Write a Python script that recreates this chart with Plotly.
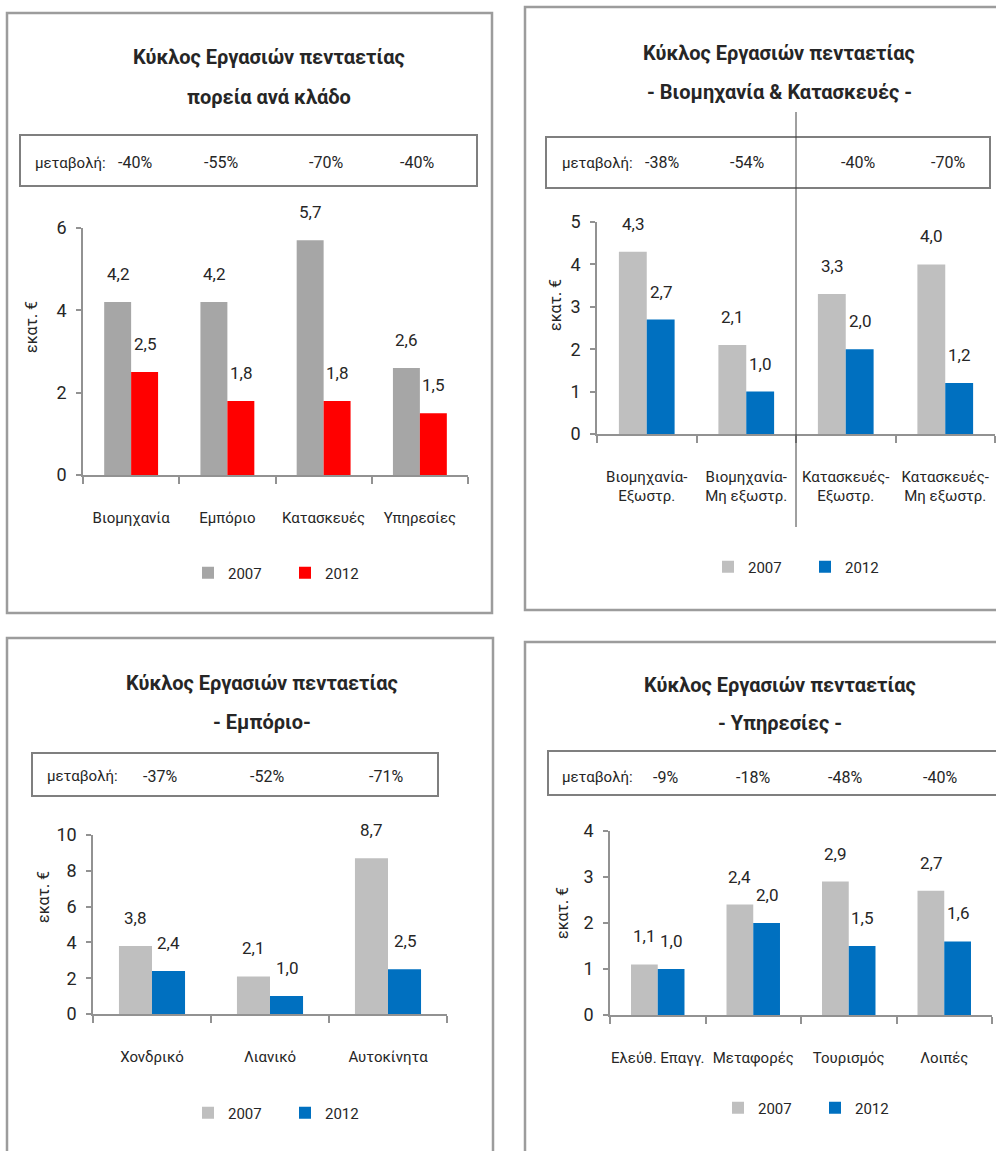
import plotly.graph_objects as go

# ---- data -------------------------------------------------------------
title_main = "Κύκλος Εργασιών πενταετίας"
change_label = "μεταβολή:"
unit_label = "εκατ. €"
years = ["2007", "2012"]

cats_sector = ["Βιομηχανία", "Εμπόριο", "Κατασκευές", "Υπηρεσίες"]
sector_2007 = [4.2, 4.2, 5.7, 2.6]
sector_2012 = [2.5, 1.8, 1.8, 1.5]
sector_change = ["-40%", "-55%", "-70%", "-40%"]
sector_sub = "πορεία ανά κλάδο"

cats_ind = ["Βιομηχανία-<br>Εξωστρ.", "Βιομηχανία-<br>Μη εξωστρ.",
            "Κατασκευές-<br>Εξωστρ.", "Κατασκευές-<br>Μη εξωστρ."]
ind_2007 = [4.3, 2.1, 3.3, 4.0]
ind_2012 = [2.7, 1.0, 2.0, 1.2]
ind_change = ["-38%", "-54%", "-40%", "-70%"]
ind_sub = "- Βιομηχανία & Κατασκευές -"

cats_trade = ["Χονδρικό", "Λιανικό", "Αυτοκίνητα"]
trade_2007 = [3.8, 2.1, 8.7]
trade_2012 = [2.4, 1.0, 2.5]
trade_change = ["-37%", "-52%", "-71%"]
trade_sub = "- Εμπόριο-"

cats_serv = ["Ελεύθ. Επαγγ.", "Μεταφορές", "Τουρισμός", "Λοιπές"]
serv_2007 = [1.1, 2.4, 2.9, 2.7]
serv_2012 = [1.0, 2.0, 1.5, 1.6]
serv_change = ["-9%", "-18%", "-48%", "-40%"]
serv_sub = "- Υπηρεσίες -"

# ---- page geometry (pixels) -------------------------------------------
W, H = 996, 1151
FONT = "Roboto, Liberation Sans, sans-serif"
TXT = "#262626"
AXC = "#929292"
BARGAP = 0.44


def px(x):
    return x / W


def py(y):
    return 1 - y / H


panels = [
    dict(cats=cats_sector, a=sector_2007, b=sector_2012, chg=sector_change, sub=sector_sub,
         ca="#A6A6A6", cb="#FF0000", plot=(83, 468, 228, 475), ymax=6, dtick=2,
         frame=(7, 13, 492, 613), cbox=(20, 135, 477, 186), chg_y=163, chg_lx=33,
         chg_x=[135, 221, 326, 417],
         title_x=269, title_y=(57, 97), ytitle=(32, 327), leg=(188, 573)),
    dict(cats=cats_ind, a=ind_2007, b=ind_2012, chg=ind_change, sub=ind_sub,
         ca="#BFBFBF", cb="#0070C0", plot=(597, 995, 222, 434), ymax=5, dtick=1,
         frame=(525, 7, 1010, 610), cbox=(546, 137, 990, 188), chg_y=163, chg_lx=560,
         chg_x=[662, 747, 858, 948],
         title_x=779, title_y=(53, 92), ytitle=(555, 305), leg=(708, 567)),
    dict(cats=cats_trade, a=trade_2007, b=trade_2012, chg=trade_change, sub=trade_sub,
         ca="#BFBFBF", cb="#0070C0", plot=(93, 447, 835, 1014), ymax=10, dtick=2,
         frame=(7, 638, 493, 1170), cbox=(32, 753, 438, 796), chg_y=776, chg_lx=45,
         chg_x=[160, 267, 386],
         title_x=262, title_y=(683, 722), ytitle=(43, 897), leg=(188, 1113)),
    dict(cats=cats_serv, a=serv_2007, b=serv_2012, chg=serv_change, sub=serv_sub,
         ca="#BFBFBF", cb="#0070C0", plot=(610, 992, 831, 1015), ymax=4, dtick=1,
         frame=(525, 642, 1010, 1170), cbox=(548, 751, 1010, 795), chg_y=777, chg_lx=560,
         chg_x=[665, 753, 845, 940],
         title_x=780, title_y=(685, 723), ytitle=(562, 913), leg=(718, 1108)),
]

fig = go.Figure()
shapes, annotations = [], []
layout = {}


def label(x, y, text, size, bold=False, **kw):
    d = dict(x=x, y=y, xref="paper", yref="paper", text=f"<b>{text}</b>" if bold else text,
             showarrow=False, xanchor="center", yanchor="middle",
             font=dict(family=FONT, size=size, color=TXT))
    d.update(kw)
    return d


for i, p in enumerate(panels, start=1):
    xn = "x" if i == 1 else f"x{i}"
    yn = "y" if i == 1 else f"y{i}"
    ln = "legend" if i == 1 else f"legend{i}"
    x0, x1, y0, y1 = p["plot"]
    n = len(p["cats"])

    for yr, vals, col in ((years[0], p["a"], p["ca"]), (years[1], p["b"], p["cb"])):
        fig.add_trace(go.Bar(x=p["cats"], y=vals, name=yr, marker=dict(color=col, line_width=0),
                             xaxis=xn, yaxis=yn, legend=ln, hoverinfo="x+y+name"))

    xa = "xaxis" if i == 1 else f"xaxis{i}"
    ya = "yaxis" if i == 1 else f"yaxis{i}"
    layout[xa] = dict(domain=[px(x0), px(x1)], anchor=yn, type="category",
                      range=[-0.5, n - 0.5], showline=True, linecolor=AXC, linewidth=1.5,
                      ticks="outside", tickson="boundaries", ticklen=7, tickcolor=AXC,
                      tickwidth=1.5, showgrid=False, ticklabelstandoff=28, tickangle=0,
                      tickfont=dict(family=FONT, size=15, color=TXT), fixedrange=True)
    layout[ya] = dict(domain=[py(y1), py(y0)], anchor=xn, range=[0, p["ymax"]],
                      dtick=p["dtick"], showline=True, linecolor=AXC, linewidth=1.5,
                      ticks="outside", ticklen=5, tickcolor=AXC, tickwidth=1.5,
                      showgrid=False, zeroline=False, ticklabelstandoff=6,
                      tickfont=dict(family=FONT, size=18, color=TXT), fixedrange=True)

    # value labels above each bar
    cat_px = (x1 - x0) / n
    shift = (1 - BARGAP) / 4 * cat_px
    for vals, sx in ((p["a"], -shift), (p["b"], shift)):
        for c, v in zip(p["cats"], vals):
            annotations.append(dict(x=c, y=v, xref=xn, yref=yn, xshift=sx, yshift=28,
                                    xanchor="center", yanchor="middle",
                                    text=f"{v:.1f}".replace(".", ","), showarrow=False,
                                    font=dict(family=FONT, size=17, color=TXT)))

    # panel frame
    fx0, fy0, fx1, fy1 = p["frame"]
    shapes.append(dict(type="rect", xref="paper", yref="paper", x0=px(fx0), x1=px(fx1),
                       y0=py(fy1), y1=py(fy0), line=dict(color="#9c9c9c", width=2.5),
                       layer="below"))
    # change box
    bx0, by0, bx1, by1 = p["cbox"]
    shapes.append(dict(type="rect", xref="paper", yref="paper", x0=px(bx0), x1=px(bx1),
                       y0=py(by1), y1=py(by0), line=dict(color="#7f7f7f", width=2)))
    annotations.append(label(px(p["chg_lx"]), py(p["chg_y"]), change_label, 15,
                             xanchor="left"))
    for cx, t in zip(p["chg_x"], p["chg"]):
        annotations.append(label(px(cx), py(p["chg_y"]), t, 16))

    # titles
    for line, ty in ((title_main, p["title_y"][0]), (p["sub"], p["title_y"][1])):
        annotations.append(label(px(p["title_x"]), py(ty), line, 20, bold=True))
    # y-axis unit
    annotations.append(label(px(p["ytitle"][0]), py(p["ytitle"][1]), unit_label, 16,
                             textangle=-90))

    layout[ln] = dict(orientation="h", x=px(p["leg"][0]), y=py(p["leg"][1]), xanchor="left",
                      yanchor="middle", bgcolor="rgba(0,0,0,0)", itemwidth=30,
                      entrywidth=52, entrywidthmode="pixels",
                      font=dict(family=FONT, size=15, color=TXT), itemclick=False,
                      itemdoubleclick=False)

# divider between industry and construction groups
shapes.append(dict(type="line", xref="x2", yref="paper", x0=1.5, x1=1.5,
                   y0=py(527), y1=py(112), line=dict(color="#404040", width=1)))

fig.update_layout(width=W, height=H, margin=dict(l=0, r=0, t=0, b=0, autoexpand=False),
                  paper_bgcolor="white", plot_bgcolor="white", barmode="group",
                  bargap=BARGAP, bargroupgap=0, separators=",.", showlegend=True,
                  shapes=shapes, annotations=annotations,
                  font=dict(family=FONT, color=TXT), **layout)

fig.write_html("out.html")
